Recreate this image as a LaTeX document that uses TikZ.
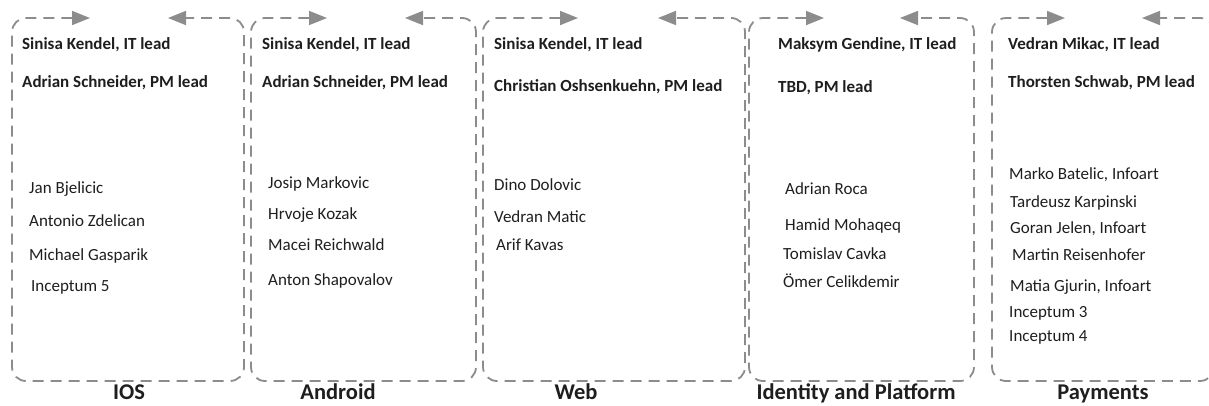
\documentclass[tikz,border=0pt]{standalone}
\usepackage{fontspec}
\setmainfont{Carlito}
\usetikzlibrary{arrows.meta}
\definecolor{dashgray}{HTML}{8C8C8C}
\definecolor{txt}{HTML}{1E1E1E}
\tikzset{
  teambox/.style={draw=dashgray, line width=1.8pt, dash pattern=on 11pt off 7pt,
    rounded corners=14pt, {Triangle[length=18pt,width=14pt,fill=dashgray]}-{Triangle[length=18pt,width=14pt,fill=dashgray]}},
  lead/.style={anchor=base west, font=\fontsize{17}{20}\selectfont\bfseries, text=txt, inner sep=0pt},
  member/.style={anchor=base west, font=\fontsize{17}{20}\selectfont, text=txt, inner sep=0pt},
  teamtitle/.style={anchor=base, font=\fontsize{22.5}{26}\selectfont\bfseries, text=txt, inner sep=0pt},
}
\begin{document}
\begin{tikzpicture}[x=1pt,y=-1pt]
\useasboundingbox (0,0) rectangle (1209,405);
\clip (0,0) rectangle (1209,405);
% boxes: tip1, left, right, tip2
\foreach \n/\l/\r/\ta/\tb in {1/12/244/90/168, 2/251/476/327/405, 3/483/745/578/658, 4/749/974/824/900, 5/992/1214/1065/1142}{
  \coordinate (t1\n) at (\ta,18);
  \coordinate (t2\n) at (\tb,18);
  \coordinate (tl\n) at (\l,18);
  \coordinate (bl\n) at (\l,381);
  \coordinate (br\n) at (\r,381);
  \coordinate (tr\n) at (\r,18);
  \draw[teambox] (t1\n) -- (tl\n) -- (bl\n) -- (br\n) -- (tr\n) -- (t2\n);
}
% IOS
\node[lead] (a1) at (22,49) {Sinisa Kendel, IT lead};
\node[lead] (a2) at (22,87) {Adrian Schneider, PM lead};
\node[member] (a3) at (29,193) {Jan Bjelicic};
\node[member] (a4) at (29,226) {Antonio Zdelican};
\node[member] (a5) at (29,260) {Michael Gasparik};
\node[member] (a6) at (31,291) {Inceptum 5};
\node[teamtitle] (at) at (129,399.5) {IOS};
% Android
\node[lead] (b1) at (262,49) {Sinisa Kendel, IT lead};
\node[lead] (b2) at (262,87) {Adrian Schneider, PM lead};
\node[member] (b3) at (268,188) {Josip Markovic};
\node[member] (b4) at (268,219) {Hrvoje Kozak};
\node[member] (b5) at (268,250) {Macei Reichwald};
\node[member] (b6) at (268,285) {Anton Shapovalov};
\node[teamtitle] (bt) at (338,399.5) {Android};
% Web
\node[lead] (c1) at (494,49) {Sinisa Kendel, IT lead};
\node[lead] (c2) at (494,91) {Christian Oshsenkuehn, PM lead};
\node[member] (c3) at (494,190) {Dino Dolovic};
\node[member] (c4) at (494,222) {Vedran Matic};
\node[member] (c5) at (496,250) {Arif Kavas};
\node[teamtitle] (ct) at (576,399.5) {Web};
% Identity and Platform
\node[lead] (d1) at (778,49) {Maksym Gendine, IT lead};
\node[lead] (d2) at (778,92) {TBD, PM lead};
\node[member] (d3) at (785,194) {Adrian Roca};
\node[member] (d4) at (785,230) {Hamid Mohaqeq};
\node[member] (d5) at (783,259) {Tomislav Cavka};
\node[member] (d6) at (783,287) {Ömer Celikdemir};
\node[teamtitle] (dt) at (856,399.5) {Identity and Platform};
% Payments
\node[lead] (e1) at (1008,49) {Vedran Mikac, IT lead};
\node[lead] (e2) at (1008,87) {Thorsten Schwab, PM lead};
\node[member] (e3) at (1009,179) {Marko Batelic, Infoart};
\node[member] (e4) at (1010,207) {Tardeusz Karpinski};
\node[member] (e5) at (1010,233) {Goran Jelen, Infoart};
\node[member] (e6) at (1012,260) {Martin Reisenhofer};
\node[member] (e7) at (1010,291) {Matia Gjurin, Infoart};
\node[member] (e8) at (1009,317) {Inceptum 3};
\node[member] (e9) at (1009,341) {Inceptum 4};
\node[teamtitle] (et) at (1103,399.5) {Payments};
\end{tikzpicture}
\end{document}
